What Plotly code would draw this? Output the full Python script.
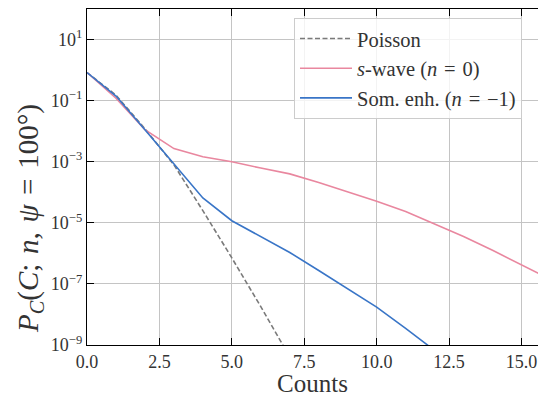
import plotly.graph_objects as go

# Photon-count probabilities P_C(C; n, psi = 100 deg)
counts = list(range(17))

poisson = [0.832, 0.151, 0.0120, 7.9e-4, 2.5e-5, 7.1e-7, 1.8e-8, 4.0e-10, 6.3e-12]
s_wave = [0.832, 0.120, 0.0112, 2.69e-3, 1.45e-3, 1.0e-3, 6.2e-4, 4.0e-4, 2.1e-4,
          1.05e-4, 5.1e-5, 2.34e-5, 9.3e-6, 3.55e-6, 1.26e-6, 4.3e-7, 1.41e-7]
som_enh = [0.832, 0.141, 0.0112, 8.3e-4, 6.5e-5, 1.17e-5, 3.55e-6, 1.07e-6, 2.75e-7,
           6.9e-8, 1.74e-8, 3.5e-9, 6.9e-10, 1.26e-10, 2.0e-11, 3.2e-12, 5.0e-13]

x_ticks = [0.0, 2.5, 5.0, 7.5, 10.0, 12.5, 15.0]
y_ticks = [1e1, 1e-1, 1e-3, 1e-5, 1e-7, 1e-9]
y_tick_text = ["10<sup>1</sup>", "10<sup>\u22121</sup>", "10<sup>\u22123</sup>",
               "10<sup>\u22125</sup>", "10<sup>\u22127</sup>", "10<sup>\u22129</sup>"]

FONT = "Liberation Serif"
TEXT = "#333333"
SP = "\u2004"  # slightly wider math spacing around relations

fig = go.Figure()
fig.add_trace(go.Scatter(
    x=counts[:len(poisson)], y=poisson, mode="lines", name="Poisson",
    line=dict(color="#7a7a7a", width=1.6, dash="5px,2.5px"),
))
fig.add_trace(go.Scatter(
    x=counts, y=s_wave, mode="lines", name=f"<i>s</i>-wave (<i>n</i>{SP}={SP}0)",
    line=dict(color="#e9879f", width=1.6),
))
fig.add_trace(go.Scatter(
    x=counts, y=som_enh, mode="lines", name=f"Som. enh. (<i>n</i>{SP}={SP}\u22121)",
    line=dict(color="#3975c7", width=1.6),
))

fig.update_layout(
    width=538, height=397,
    margin=dict(l=87, r=0, t=9, b=49),
    paper_bgcolor="white", plot_bgcolor="white",
    font=dict(family=FONT, color=TEXT, size=18),
    showlegend=True,
    legend=dict(
        x=0.459, y=0.974, xanchor="left", yanchor="top",
        bgcolor="rgba(255,255,255,0.8)", bordercolor="#cccccc", borderwidth=1,
        font=dict(family=FONT, size=20.5, color=TEXT),
        itemwidth=52,
    ),
    annotations=[dict(
        text=(f"<i>P</i><sub><i>C</i></sub>(<i>C</i>;{SP}<i>n</i>,{SP}"
              f"<i>\u03c8</i>{SP}={SP}100\u00b0)"),
        xref="paper", yref="paper", x=-0.1264, y=0.378,
        xanchor="center", yanchor="middle", textangle=-90, showarrow=False,
        font=dict(family=FONT, size=29, color=TEXT),
    )],
)

fig.update_xaxes(
    range=[0, 15.57], tickvals=x_ticks, tickformat=".1f",
    ticks="inside", ticklen=7, tickwidth=1.3, tickcolor="black",
    showline=True, linecolor="black", linewidth=1.3, mirror="ticks",
    showgrid=True, gridcolor="#c4c4c4", gridwidth=1, zeroline=False,
    tickfont=dict(family=FONT, size=18, color=TEXT),
    title=dict(text="Counts", font=dict(family=FONT, size=25, color=TEXT), standoff=8),
)
fig.update_yaxes(
    type="log", range=[-9, 2], tickvals=y_ticks, ticktext=y_tick_text,
    ticks="inside", ticklen=7, tickwidth=1.3, tickcolor="black",
    showline=True, linecolor="black", linewidth=1.3, mirror=False,
    showgrid=True, gridcolor="#c4c4c4", gridwidth=1, zeroline=False,
    tickfont=dict(family=FONT, size=18, color=TEXT),
)

fig.write_html("out.html")
